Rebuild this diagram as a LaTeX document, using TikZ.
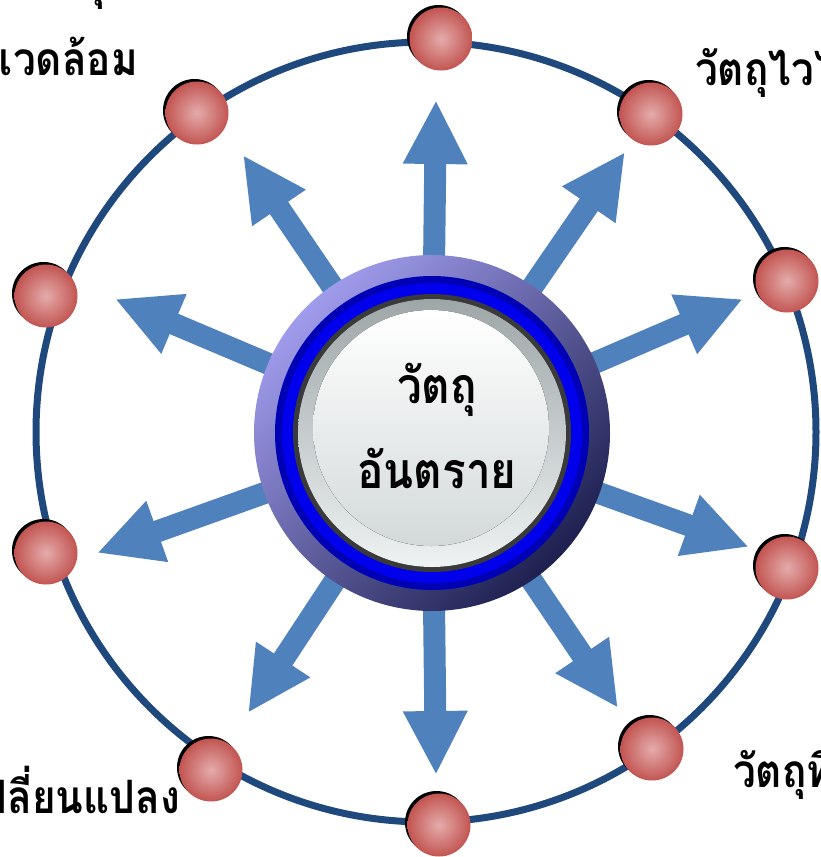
\documentclass[tikz,border=0pt]{standalone}
\usepackage{fontspec}
\newfontfamily\thaifont[Script=Thai,FakeStretch=0.88]{Loma}
\usetikzlibrary{arrows.meta,shadows}
\definecolor{ringc}{HTML}{1F497D}
\definecolor{arrc}{HTML}{4F81BD}
\definecolor{dotout}{HTML}{C25552}
\definecolor{dotin}{HTML}{E4ACAB}
\definecolor{hubtl}{HTML}{A09CEC}
\definecolor{hubmid}{HTML}{4A22A4}
\definecolor{hubbr}{HTML}{1E2050}
\definecolor{bluedark}{HTML}{0000B4}
\definecolor{bluebright}{HTML}{0000EC}
\definecolor{greyedge}{HTML}{3A3A3A}
\definecolor{greytop}{HTML}{9EA6A8}
\definecolor{greybot}{HTML}{EEF2F2}
\definecolor{innerbot}{HTML}{D3D9D9}
\begin{document}
\begin{tikzpicture}[x=1pt,y=-1pt,
  arr/.style={arrc, line width=22pt, -{Triangle[length=64pt,width=60pt]}},
  dotball/.style={circle, minimum size=63pt, inner sep=0pt, inner color=dotin, outer color=dotout,
    drop shadow={shadow xshift=-2.5pt, shadow yshift=2.5pt, fill=black, opacity=1}},
  lbl/.style={font=\thaifont\bfseries\fontsize{46}{50}\selectfont, inner sep=0pt},
  hublbl/.style={font=\thaifont\bfseries\fontsize{50}{54}\selectfont, inner sep=0pt},
]
\useasboundingbox (0,0) rectangle (821,857);
\clip (0,0) rectangle (821,857);
% centres
\coordinate (rc) at (426,432);
\coordinate (cc) at (432,433);
% outer ring
\draw[ringc, line width=7pt] (rc) circle (390);
% arrow tips
\coordinate (tU) at (436,100);
\coordinate (tUR) at (625,152);
\coordinate (tRU) at (743,299);
\coordinate (tRD) at (749,547);
\coordinate (tDR) at (618,708);
\coordinate (tD) at (436,775);
\coordinate (tDL) at (248,713);
\coordinate (tLD) at (97,553);
\coordinate (tLU) at (115,299);
\coordinate (tUL) at (243,155);
\foreach \t in {tU,tUR,tRU,tRD,tDR,tD,tDL,tLD,tLU,tUL}
  \draw[arr] (cc) -- (\t);
% hub
\node[circle, minimum size=356pt, inner sep=0pt, top color=hubtl, middle color=hubmid, bottom color=hubbr, shading angle=45] (hub) at (cc) {};
\fill[bluedark] (cc) circle (157);
\fill[bluebright] (cc) circle (150);
\fill[greyedge] (cc) circle (139);
\fill[top color=greytop, bottom color=greybot] (cc) circle (134);
\fill[top color=white, bottom color=innerbot] (431,428) circle (118);
\node[hublbl, anchor=base] (t1) at (437,403) {วัตถุ};
\node[hublbl, anchor=base] (t2) at (437,488) {อันตราย};
% dots
\node[dotball] (d1) at (441,39) {};
\node[dotball] (d2) at (651,114) {};
\node[dotball] (d3) at (787,281) {};
\node[dotball] (d4) at (787,568) {};
\node[dotball] (d5) at (652,749) {};
\node[dotball] (d6) at (439,825) {};
\node[dotball] (d7) at (211,770) {};
\node[dotball] (d8) at (46,553) {};
\node[dotball] (d9) at (46,296) {};
\node[dotball] (d10) at (197,113) {};
% outer labels
\node[lbl, anchor=base east] (l1a) at (106,-3) {วัตถุ};
\node[lbl, anchor=base east] (l1b) at (138,75) {สิ่งแวดล้อม};
\node[lbl, anchor=base west] (l2) at (695,85) {วัตถุไวไฟ};
\node[lbl, anchor=base east] (l3) at (180,813) {การเปลี่ยนแปลง};
\node[lbl, anchor=base west] (l4) at (733,787) {วัตถุที่มีคม};
\end{tikzpicture}
\end{document}
